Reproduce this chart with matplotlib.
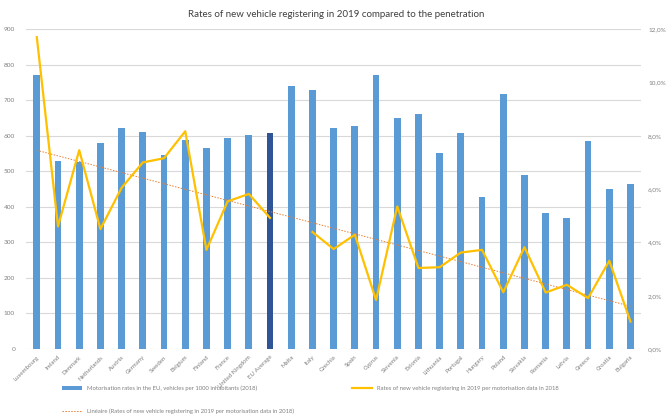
import numpy as np
import matplotlib.pyplot as plt
from matplotlib.ticker import FuncFormatter

plt.rcParams['font.family'] = ['Lato', 'DejaVu Sans']

countries = ['Luxembourg', 'Ireland', 'Denmark', 'Netherlands', 'Austria', 'Germany',
             'Sweden', 'Belgium', 'Finland', 'France', 'United Kingdom', 'EU Average',
             'Malta', 'Italy', 'Czechia', 'Spain', 'Cyprus', 'Slovenia', 'Estonia',
             'Lithuania', 'Portugal', 'Hungary', 'Poland', 'Slovakia', 'Romania',
             'Latvia', 'Greece', 'Croatia', 'Bulgaria']

# vehicles per 1000 inhabitants (2018)
motorisation = [771, 529, 525, 579, 621, 612, 547, 588, 567, 593, 603, 609,
                740, 729, 621, 628, 772, 650, 661, 552, 609, 428, 718, 489,
                384, 370, 586, 449, 465]

# new registrations 2019 / motorisation 2018, in %
new_rate = [11.7, 4.6, 7.46, 4.5, 6.05, 7.0, 7.16, 8.17, 3.72, 5.54, 5.82, 4.92,
            np.nan, 4.39, 3.75, 4.29, 1.84, 5.35, 3.04, 3.07, 3.62, 3.72, 2.13,
            3.82, 2.12, 2.41, 1.91, 3.31, 1.03]

bar_label = 'Motorisation rates in the EU, vehicles per 1000 inhabitants (2018)'
line_label = 'Rates of new vehicle registering in 2019 per motorisation data in 2018'
trend_label = 'Linéaire (' + line_label + ')'

x = np.arange(len(countries))
rates = np.array(new_rate)
ok = ~np.isnan(rates)
slope, icpt = np.polyfit(x[ok], rates[ok], 1)
trend = slope * x + icpt

grey = '#7f7f7f'
fig = plt.figure(figsize=(6.72, 4.17), dpi=100)
ax = fig.add_axes([0.039, 0.163, 0.915, 0.767])
ax2 = ax.twinx()

colors = ['#2f5597' if c == 'EU Average' else '#5b9bd5' for c in countries]
bars = ax.bar(x, motorisation, width=0.32, color=colors, zorder=2)
ax.set_ylim(0, 900)
ax.set_yticks(np.arange(0, 901, 100))
ax.set_xlim(-0.5, len(countries) - 0.5)
ax.yaxis.grid(True, color='#d9d9d9', lw=0.8)
ax.set_axisbelow(True)
ax.set_xticks(x)
ax.set_xticklabels(countries, rotation=45, ha='right', rotation_mode='anchor',
                   fontsize=4.4, color=grey)
ax.tick_params(axis='y', labelsize=4.6, colors=grey, length=0, pad=8)
ax.tick_params(axis='x', length=0, pad=4)

trend_line, = ax2.plot(x, trend, ls=(0, (1.5, 1.5)), color='#ed7d31', lw=0.7)
rate_line, = ax2.plot(x, rates, color='#ffc000', lw=1.6)
ax2.set_ylim(0, 12)
ax2.set_yticks(np.arange(0, 12.1, 2))
ax2.yaxis.set_major_formatter(FuncFormatter(lambda v, p: f'{v:.1f}%'.replace('.', ',')))
ax2.tick_params(axis='y', labelsize=4.6, colors=grey, length=0, pad=5)

for a in (ax, ax2):
    for s in a.spines.values():
        s.set_visible(False)

fig.suptitle('Rates of new vehicle registering in 2019 compared to the penetration',
             y=0.975, fontsize=7, color='#404040')

fig.legend([bars, trend_line, rate_line], [bar_label, trend_label, line_label],
           ncol=2, loc='lower left', bbox_to_anchor=(0.085, -0.005), frameon=False,
           fontsize=4.2, labelcolor=grey, handlelength=3.4, columnspacing=10,
           labelspacing=3.0)

fig.savefig('out.png', dpi=100)
